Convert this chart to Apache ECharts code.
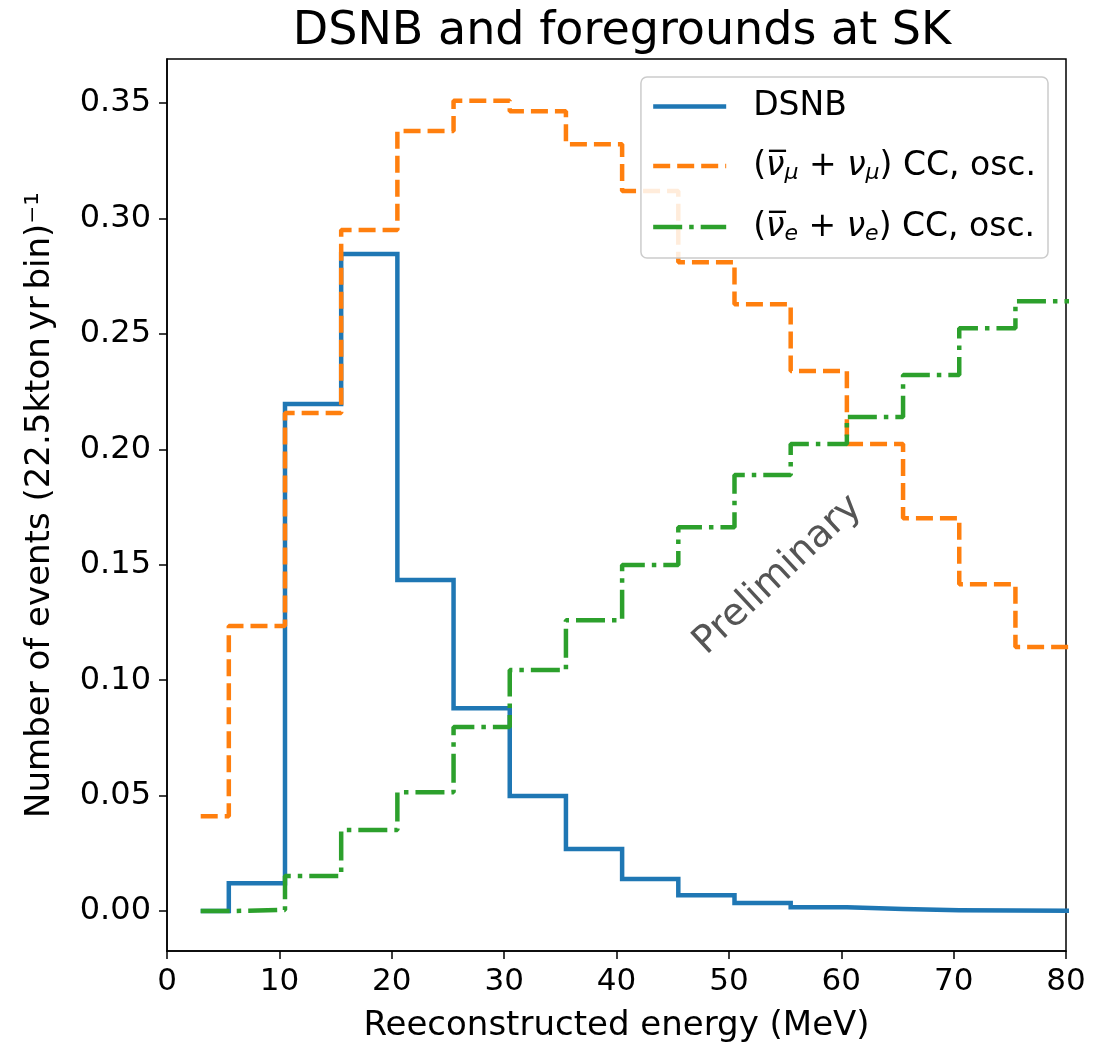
<!DOCTYPE html>
<html>
<head>
<meta charset="utf-8">
<script src="https://cdn.jsdelivr.net/npm/echarts@6/dist/echarts.min.js"></script>
<style>
html,body{margin:0;padding:0;background:#fff;}
#chart{width:1110px;height:1044px;}
</style>
</head>
<body>
<div id="chart"></div>
<script>
// Bin left edges (MeV); last bin ends past 80 (clipped)
const binEdges = [3, 5.5, 10.5, 15.5, 20.5, 25.5, 30.5, 35.5, 40.5, 45.5, 50.5, 55.5, 60.5, 65.5, 70.5, 75.5];
const lastEdge = 80.5;
const dsnb = [0.000, 0.0121, 0.2196, 0.2846, 0.1434, 0.0879, 0.0498, 0.0269, 0.0139, 0.0069, 0.0035, 0.0017, 0.0009, 0.0004, 0.0002, 0.0001];
const numuCC = [0.0411, 0.1235, 0.2157, 0.2950, 0.3379, 0.3510, 0.3465, 0.3322, 0.3119, 0.2811, 0.2629, 0.2339, 0.2023, 0.1702, 0.1416, 0.1144];
const nueCC = [0.000, 0.0005, 0.0152, 0.0351, 0.0515, 0.0797, 0.1044, 0.1260, 0.1499, 0.1663, 0.1889, 0.2023, 0.2140, 0.2322, 0.2525, 0.2642];
const yTicks = [0, 0.05, 0.10, 0.15, 0.20, 0.25, 0.30, 0.35];
const seriesNames = ['DSNB', 'numu', 'nue'];

function stepData(vals) {
  const d = binEdges.map((e, i) => [e, vals[i]]);
  d.push([lastEdge, vals[vals.length - 1]]);
  return d;
}

const FONT = 'DejaVu Sans';
const chart = echarts.init(document.getElementById('chart'), null, {renderer: 'canvas'});
const legendRich = {
  t: {fontFamily: FONT, fontSize: 33, color: '#000', lineHeight: 36},
  v: {fontFamily: FONT, fontSize: 33, fontStyle: 'italic', color: '#000', lineHeight: 36},
  s: {fontFamily: FONT, fontSize: 22, fontStyle: 'italic', color: '#000', padding: [14, 0, 0, 0], lineHeight: 36}
};
const option = {
  animation: false,
  backgroundColor: '#fff',
  title: {
    text: 'DSNB and foregrounds at SK',
    left: 617, top: 4, textAlign: 'center',
    textStyle: {fontFamily: FONT, fontSize: 46, fontWeight: 'normal', color: '#000'}
  },
  grid: {left: 167, right: 44, top: 59, bottom: 93, show: true, borderColor: '#000', borderWidth: 1.5,
    containLabel: false, outerBoundsMode: 'none'},
  legend: {
    orient: 'vertical', right: 62, top: 77,
    backgroundColor: 'rgba(255,255,255,0.85)', borderColor: '#ccc', borderWidth: 1.5, borderRadius: 6,
    padding: [13, 12, 13, 10], itemGap: 25, itemWidth: 73, itemHeight: 20,
    data: seriesNames,
    itemStyle: {opacity: 0},
    lineStyle: {width: 4.5, type: 'inherit'},
    formatter: function (name) {
      if (name === 'DSNB') return '{t|DSNB}';
      if (name === 'numu') return '{t|(}{v|\u03bd\u0305}{s|\u03bc}{t| + }{v|\u03bd}{s|\u03bc}{t|) CC, osc.}';
      return '{t|(}{v|\u03bd\u0305}{s|e}{t| + }{v|\u03bd}{s|e}{t|) CC, osc.}';
    },
    textStyle: {fontFamily: FONT, fontSize: 33, color: '#000', padding: [0, 0, 0, 22], rich: legendRich}
  },
  xAxis: {
    type: 'value', min: 0, max: 80, interval: 10,
    name: 'Reeconstructed energy (MeV)', nameLocation: 'middle', nameGap: 58,
    nameTextStyle: {fontFamily: FONT, fontSize: 34, color: '#000'},
    axisLine: {show: true, onZero: false, lineStyle: {color: '#000', width: 1.5}},
    axisTick: {show: true, length: 8, lineStyle: {color: '#000', width: 1.5}},
    axisLabel: {fontFamily: FONT, fontSize: 31, color: '#000', margin: 15},
    splitLine: {show: false}
  },
  yAxis: {
    type: 'value', min: -0.0173, max: 0.3691,
    name: 'Number of events (22.5kton\u2009yr\u2009bin)\u207b\u00b9', nameLocation: 'middle', nameGap: 110,
    nameTextStyle: {fontFamily: FONT, fontSize: 34, color: '#000'},
    axisLine: {show: true, onZero: false, lineStyle: {color: '#000', width: 1.5}},
    axisTick: {show: true, length: 8, customValues: yTicks, lineStyle: {color: '#000', width: 1.5}},
    axisLabel: {fontFamily: FONT, fontSize: 32, color: '#000', margin: 16, customValues: yTicks,
      formatter: v => v.toFixed(2)},
    splitLine: {show: false}
  },
  graphic: [{
    type: 'text', x: 778, y: 575, rotation: 43 * Math.PI / 180,
    style: {text: 'Preliminary', fontFamily: FONT, fontSize: 38, fill: '#555', textAlign: 'center', textVerticalAlign: 'middle'},
    z: 10
  }],
  series: [
    {name: 'DSNB', type: 'line', step: 'end', symbol: 'none', clip: true, data: stepData(dsnb),
      lineStyle: {color: '#1f77b4', width: 4.5, type: 'solid', join: 'miter'}, itemStyle: {color: '#1f77b4'}},
    {name: 'numu', type: 'line', step: 'end', symbol: 'none', clip: true, data: stepData(numuCC),
      lineStyle: {color: '#ff7f0e', width: 4.5, type: [17, 7], cap: 'butt'}, itemStyle: {color: '#ff7f0e'}},
    {name: 'nue', type: 'line', step: 'end', symbol: 'none', clip: true, data: stepData(nueCC),
      lineStyle: {color: '#2ca02c', width: 4.5, type: [29, 7, 4.5, 7], cap: 'butt'}, itemStyle: {color: '#2ca02c'}}
  ]
};
chart.setOption(option);
</script>
</body>
</html>
